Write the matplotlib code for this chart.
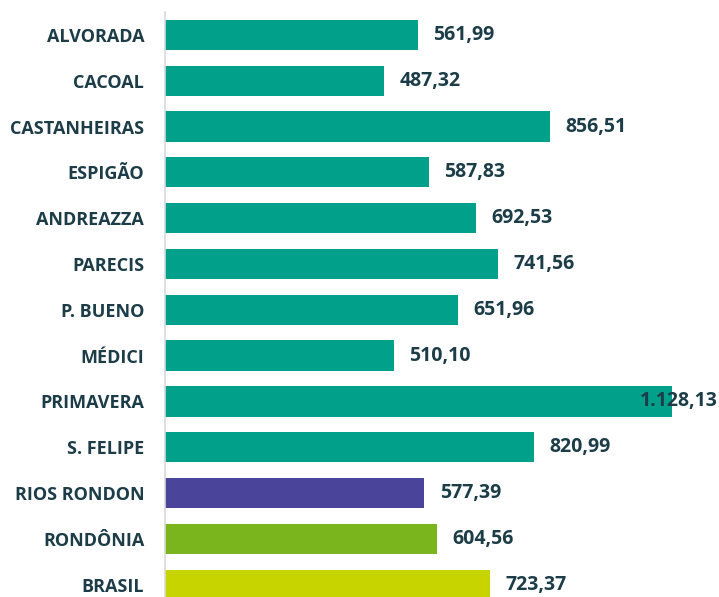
import numpy as np
import matplotlib.pyplot as plt

plt.rcParams['font.family'] = ['Open Sans', 'DejaVu Sans']

categories = ['ALVORADA', 'CACOAL', 'CASTANHEIRAS', 'ESPIGÃO', 'ANDREAZZA', 'PARECIS',
              'P. BUENO', 'MÉDICI', 'PRIMAVERA', 'S. FELIPE', 'RIOS RONDON', 'RONDÔNIA', 'BRASIL']
values = [561.99, 487.32, 856.51, 587.83, 692.53, 741.56, 651.96, 510.10, 1128.13, 820.99,
          577.39, 604.56, 723.37]
colors = ['#00a08a'] * 10 + ['#4b449b', '#7ab51d', '#c8d400']
txt_color = '#1c3d48'


def fmt_br(v):
    s = '{:,.2f}'.format(v)
    return s.replace(',', 'X').replace('.', ',').replace('X', '.')


fig = plt.figure(figsize=(7.19, 5.97), dpi=100)
ax = fig.add_axes([165 / 719, 0, 1 - 165 / 719, 1 - 12 / 597])
y = np.arange(len(categories))
ax.barh(y, values, height=0.66, color=colors)
ax.set_xlim(0, 1233)
ax.set_ylim(12.27, -0.5)

for i, v in enumerate(values):
    if v == max(values):
        ax.text(1231, i, fmt_br(v), ha='right', va='center', fontsize=14,
                fontweight='bold', color=txt_color)
    else:
        ax.annotate(fmt_br(v), (v, i), xytext=(11, 0), textcoords='offset points',
                    ha='left', va='center', fontsize=14, fontweight='bold', color=txt_color)

ax.set_yticks(y)
ax.set_yticklabels(categories, fontsize=13, fontweight='bold', color=txt_color)
ax.tick_params(axis='y', length=0, pad=15)
ax.set_xticks([])
for s in ['top', 'right', 'bottom']:
    ax.spines[s].set_visible(False)
ax.spines['left'].set_color('#d9d9d9')
ax.spines['left'].set_linewidth(1.2)

fig.savefig('out.png', dpi=100)
